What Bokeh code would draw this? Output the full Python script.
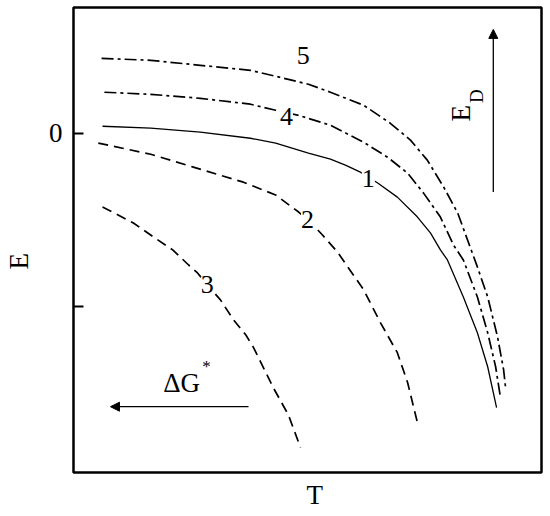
from bokeh.plotting import figure
from bokeh.models import Range1d, FixedTicker, Label, Arrow, NormalHead, Title
from bokeh.embed import file_html
from bokeh.resources import INLINE

# Curves: temperature T (relative) vs energy E (relative units)
T1 = [0.062, 0.165, 0.271, 0.378, 0.432, 0.502, 0.549, 0.581, 0.613, 0.650, 0.692, 0.735, 0.763,
      0.784, 0.799, 0.833, 0.863, 0.885, 0.904]
E1 = [0.040, 0.029, 0.006, -0.029, -0.057, -0.115, -0.149, -0.184, -0.224, -0.287, -0.368, -0.483,
      -0.575, -0.672, -0.730, -0.943, -1.149, -1.345, -1.580]

T2 = [0.053, 0.165, 0.256, 0.363, 0.432, 0.481, 0.506, 0.532, 0.564, 0.620, 0.656, 0.692, 0.714, 0.737]
E2 = [-0.057, -0.121, -0.195, -0.282, -0.356, -0.454, -0.511, -0.586, -0.684, -0.902, -1.092, -1.264,
      -1.437, -1.690]

T3 = [0.062, 0.128, 0.171, 0.212, 0.246, 0.265, 0.286, 0.314, 0.342, 0.368, 0.385, 0.427, 0.459, 0.485]
E3 = [-0.425, -0.517, -0.598, -0.672, -0.759, -0.805, -0.874, -0.960, -1.075, -1.161, -1.236, -1.466,
      -1.621, -1.810]

T4 = [0.066, 0.165, 0.271, 0.378, 0.432, 0.481, 0.549, 0.620, 0.671, 0.714, 0.748, 0.784, 0.812,
      0.833, 0.863, 0.885, 0.902, 0.912]
E4 = [0.236, 0.224, 0.201, 0.167, 0.132, 0.103, 0.046, -0.052, -0.138, -0.230, -0.345, -0.483, -0.644,
      -0.730, -0.943, -1.149, -1.345, -1.517]

T5 = [0.060, 0.165, 0.271, 0.378, 0.432, 0.502, 0.549, 0.620, 0.677, 0.720, 0.756, 0.791, 0.821,
      0.842, 0.863, 0.885, 0.906, 0.919, 0.923]
E5 = [0.431, 0.420, 0.391, 0.362, 0.328, 0.282, 0.236, 0.161, 0.057, -0.040, -0.155, -0.310, -0.460,
      -0.615, -0.770, -0.943, -1.172, -1.362, -1.460]

curve_names = ["1", "2", "3", "4", "5"]
label_T = [0.630, 0.500, 0.286, 0.455, 0.491]
label_E = [-0.259, -0.495, -0.874, 0.098, 0.448]

y_ticks = [0, -1]
y_tick_labels = {0: "0", -1: ""}

FONT = "Liberation Serif"
FS = "27px"

p = figure(width=554, height=515, x_range=Range1d(0, 1), y_range=Range1d(-1.954, 0.724),
           output_backend="svg", toolbar_location=None, x_axis_location=None,
           min_border_left=84, min_border_right=2, min_border_top=7, min_border_bottom=42,
           margin=(0, 0, 0, -11))
p.grid.visible = False
p.outline_line_color = "black"
p.outline_line_width = 2.5
p.background_fill_color = "white"
p.border_fill_color = "white"

ax = p.yaxis[0]
ax.ticker = FixedTicker(ticks=y_ticks)
ax.major_label_overrides = y_tick_labels
ax.axis_line_color = None
ax.major_tick_in = 10
ax.major_tick_out = 0
ax.major_tick_line_width = 2
ax.minor_tick_line_color = None
ax.major_label_standoff = 11
ax.major_label_text_font = FONT
ax.major_label_text_font_size = FS
ax.major_label_text_color = "black"

# axis titles
p.add_layout(Title(text="E", align="left", offset=203, standoff=24, text_font=FONT,
                   text_font_size=FS, text_font_style="normal", text_color="black"), "left")
p.add_layout(Title(text="T", align="left", offset=233, standoff=11, text_font=FONT,
                   text_font_size=FS, text_font_style="normal", text_color="black"), "below")

p.line(T1, E1, line_color="black", line_width=1.3)
p.line(T2, E2, line_color="black", line_width=1.7, line_dash="10 6")
p.line(T3, E3, line_color="black", line_width=1.7, line_dash="10 6")
p.line(T4, E4, line_color="black", line_width=1.7, line_dash="12 4 3 4")
p.line(T5, E5, line_color="black", line_width=1.7, line_dash="12 4 3 4")

for name, tx, ey in zip(curve_names, label_T, label_E):
    p.add_layout(Label(x=tx, y=ey, text=name, text_align="center", text_baseline="middle",
                       text_font=FONT, text_font_size="26px", text_color="black",
                       background_fill_color="white" if name != "5" else None))

# E_D arrow
p.add_layout(Arrow(end=NormalHead(size=9, fill_color="black", line_color="black"),
                   x_start=0.897, y_start=-0.339, x_end=0.897, y_end=0.598,
                   line_color="black", line_width=1.3))
p.add_layout(Label(x=0.829, y=0.115, text="E", angle=90, angle_units="deg",
                   text_align="center", text_baseline="middle",
                   text_font=FONT, text_font_size=FS, text_color="black"))
p.add_layout(Label(x=0.861, y=0.213, text="D", angle=90, angle_units="deg",
                   text_align="center", text_baseline="middle",
                   text_font=FONT, text_font_size="19px", text_color="black"))

# Delta G* arrow
p.add_layout(Arrow(end=NormalHead(size=9, fill_color="black", line_color="black"),
                   x_start=0.374, y_start=-1.575, x_end=0.079, y_end=-1.575,
                   line_color="black", line_width=1.3))
p.add_layout(Label(x=0.231, y=-1.437, text="ΔG", text_align="center", text_baseline="middle",
                   text_font=FONT, text_font_size=FS, text_color="black"))
p.add_layout(Label(x=0.284, y=-1.345, text="*", text_align="center", text_baseline="middle",
                   text_font=FONT, text_font_size="17px", text_color="black"))

open("out.html", "w").write(file_html(p, INLINE))
